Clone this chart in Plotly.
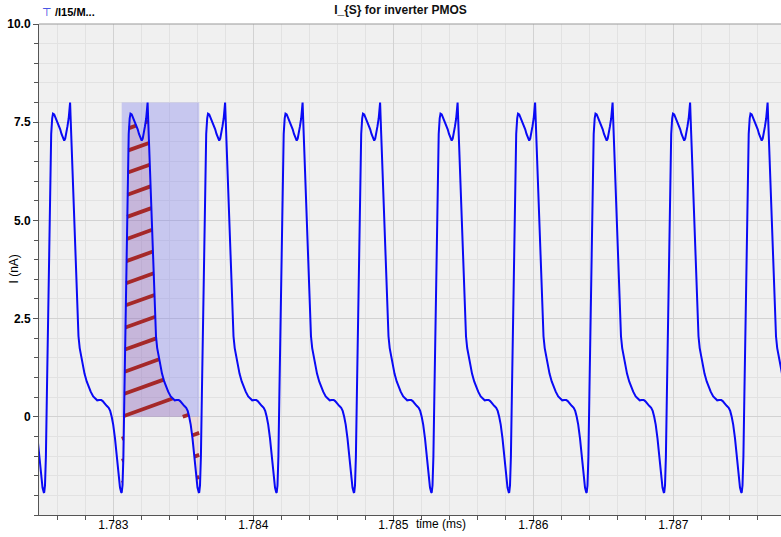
import numpy as np
import plotly.graph_objects as go

# ---------------- data ----------------
# time of each current minimum (start of each switching cycle), ms
cycle_start_ms = [1.781953, 1.7825064, 1.78306, 1.7836136, 1.7841671, 1.7847207,
                  1.7852743, 1.7858279, 1.7863814, 1.786935, 1.7874886]
# shape of one cycle: time offset from the minimum (ns) and current (nA)
cycle_offset_ns = [0.0, 5.7, 12.1, 19.3, 26.4, 35.7, 42.9, 50.0, 57.1, 62.9,
                   71.4, 78.6, 89.3, 102.1, 114.3, 123.6, 133.6, 142.9, 150.0, 157.1,
                   166.4, 175.0, 180.7, 185.0, 192.9, 202.1, 216.4, 230.7, 245.0, 253.6,
                   264.3, 275.0, 287.9, 303.6, 317.9, 332.1, 350.0, 364.3, 378.6, 392.9,
                   407.1, 417.9, 432.1, 446.4, 460.7, 471.4, 482.1, 492.9, 505.7, 518.6,
                   530.0, 541.4, 550.0]
cycle_current_nA = [-1.93, -1.75, -1.02, 0.6, 2.3, 4.5, 6.1, 7.2, 7.6, 7.72,
                    7.7, 7.64, 7.56, 7.45, 7.32, 7.2, 7.08, 7.03, 7.08, 7.2,
                    7.4, 7.6, 7.85, 8.0, 7.2, 6.2, 4.92, 3.5, 2.05, 1.75,
                    1.52, 1.3, 1.1, 0.9, 0.76, 0.64, 0.52, 0.46, 0.42, 0.43,
                    0.43, 0.4, 0.33, 0.28, 0.23, 0.15, 0.0, -0.2, -0.55, -1.02,
                    -1.45, -1.8, -1.92]
highlight_cycle = 2  # cycle whose integral is shaded

x_tick_vals = [1.783, 1.784, 1.785, 1.786, 1.787]
x_tick_text = ["1.783", "1.784", "1.785", "1.786", "1.787"]
y_tick_vals = [0, 2.5, 5.0, 7.5, 10.0]
y_tick_text = ["0", "2.5", "5.0", "7.5", "10.0"]

title_text = "I_{S} for inverter PMOS"
legend_text = "/I15/M..."
x_title = "time (ms)"
y_title = "I (nA)"

# ---------------- build the series ----------------
t_all, i_all = [], []
for s in cycle_start_ms:
    for off, cur in zip(cycle_offset_ns, cycle_current_nA):
        t_all.append(s + off * 1e-6)
        i_all.append(cur)
t_all = np.array(t_all)
i_all = np.array(i_all)

n_pts = len(cycle_offset_ns)
t0 = cycle_start_ms[highlight_cycle]
t1 = cycle_start_ms[highlight_cycle + 1]
seg_t = np.concatenate([t_all[highlight_cycle * n_pts:(highlight_cycle + 1) * n_pts], [t1]])
seg_i = np.concatenate([i_all[highlight_cycle * n_pts:(highlight_cycle + 1) * n_pts],
                        [cycle_current_nA[0]]])
seg_max = float(seg_i.max())

# ---------------- layout geometry ----------------
W, H = 781, 537
M_L, M_R, M_T, M_B = 39, 0, 24, 22
x_range = [1.7824693, 1.7877693]
y_range = [-2.5, 10.0]
plot_w = W - M_L - M_R
plot_h = H - M_T - M_B
px_per_ms = plot_w / (x_range[1] - x_range[0])
px_per_nA = plot_h / (y_range[1] - y_range[0])

# ---------------- hatch lines inside the integrated area ----------------
hatch_rise = 0.36          # pixel rise per pixel run
hatch_gap_px = 22.0        # vertical gap between hatch lines
k = hatch_rise * px_per_ms / px_per_nA
gap = hatch_gap_px / px_per_nA
ts = np.linspace(t0, t1, 4000)
fs = np.interp(ts, seg_t, seg_i)
lo = np.minimum(0.0, fs)
hi = np.maximum(0.0, fs)
t_ref = x_range[0] + (126 - M_L) / px_per_ms
c_ref = 0.04 - k * (t_ref - t0)
hx, hy = [], []
for j in range(-60, 60):
    c = c_ref + j * gap
    line = c + k * (ts - t0)
    inside = (line >= lo) & (line <= hi)
    idx = np.where(inside)[0]
    if idx.size < 2:
        continue
    breaks = np.where(np.diff(idx) > 1)[0]
    starts = np.concatenate([[idx[0]], idx[breaks + 1]])
    ends = np.concatenate([idx[breaks], [idx[-1]]])
    for a, b in zip(starts, ends):
        if b - a < 3:
            continue
        hx += [ts[a], ts[b], None]
        hy += [line[a], line[b], None]

# ---------------- figure ----------------
fig = go.Figure()

# rectangle spanning one cycle (0 .. peak)
fig.add_trace(go.Scatter(
    x=[t0, t0, t1, t1, t0], y=[0, seg_max, seg_max, 0, 0],
    mode="lines", fill="toself", fillcolor="rgba(110,110,240,0.31)",
    line=dict(width=0), hoverinfo="skip", showlegend=False))

# area between curve and zero
fig.add_trace(go.Scatter(
    x=seg_t, y=seg_i, mode="lines", fill="tozeroy",
    fillcolor="rgba(200,40,40,0.10)", line=dict(width=0),
    hoverinfo="skip", showlegend=False))

# hatch
fig.add_trace(go.Scatter(
    x=hx, y=hy, mode="lines", line=dict(color="#A52828", width=3.8),
    hoverinfo="skip", showlegend=False))

# current waveform
fig.add_trace(go.Scatter(
    x=t_all, y=i_all, mode="lines", line=dict(color="#0A0AF5", width=2),
    name=legend_text, showlegend=False))

font_family = "Liberation Sans, Arial, sans-serif"

fig.update_layout(
    width=W, height=H,
    margin=dict(l=M_L, r=M_R, t=M_T, b=M_B, pad=0),
    paper_bgcolor="white", plot_bgcolor="#F0F0F0",
    font=dict(family=font_family, size=12, color="black"),
    title=dict(text=title_text, x=400.5 / W, xref="container", xanchor="center",
               y=1 - 9.5 / H, yref="container", yanchor="middle",
               font=dict(size=12, color="#111", weight="bold")),
    xaxis=dict(range=x_range, tickmode="array", tickvals=x_tick_vals, ticktext=x_tick_text,
               ticks="outside", ticklen=5, tickcolor="#555", showline=True,
               linecolor="#555", linewidth=1, showgrid=True, gridcolor="#D2D2D2",
               zeroline=False, tickfont=dict(size=12), ticklabelstandoff=-6,
               minor=dict(tick0=1.783, dtick=0.0002, ticks="outside", ticklen=4,
                          tickcolor="#555", showgrid=True, gridcolor="#E2E2E2")),
    yaxis=dict(range=y_range, tickmode="array", tickvals=y_tick_vals, ticktext=y_tick_text,
               ticks="outside", ticklen=5, tickcolor="#555", showline=True,
               linecolor="#555", linewidth=1, showgrid=True, gridcolor="#D2D2D2",
               zeroline=False, tickfont=dict(size=12, weight="bold"),
               minor=dict(tick0=0, dtick=0.5, ticks="outside", ticklen=4,
                          tickcolor="#555", showgrid=True, gridcolor="#E2E2E2")),
    shapes=[dict(type="line", xref="paper", yref="paper", x0=0, x1=1, y0=1, y1=1,
                 line=dict(color="#999", width=1))],
    annotations=[
        dict(text=x_title, xref="paper", yref="paper",
             x=(441 - M_L) / plot_w, y=-(524 - (H - M_B)) / plot_h,
             xanchor="center", yanchor="middle", showarrow=False, font=dict(size=12)),
        dict(text=y_title, xref="paper", yref="paper",
             x=(13 - M_L) / plot_w, y=0.5, textangle=-90,
             xanchor="center", yanchor="middle", showarrow=False, font=dict(size=12)),
        dict(text="⊤", xref="paper", yref="paper",
             x=(47 - M_L) / plot_w, y=1 + (M_T - 13) / plot_h,
             xanchor="center", yanchor="middle", showarrow=False,
             font=dict(size=11, color="#2030E0", family="DejaVu Sans")),
        dict(text=legend_text, xref="paper", yref="paper",
             x=(53 - M_L) / plot_w, y=1 + (M_T - 12) / plot_h,
             xanchor="left", yanchor="middle", showarrow=False,
             font=dict(size=11, weight="bold")),
    ],
)

fig.write_html("out.html")
